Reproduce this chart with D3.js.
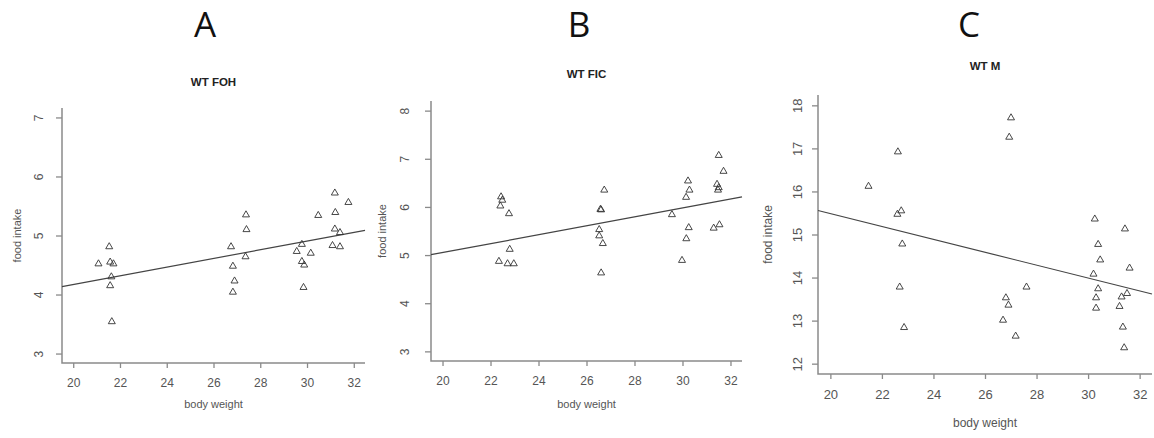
<!DOCTYPE html>
<html>
<head>
<meta charset="utf-8">
<script src="https://cdn.jsdelivr.net/npm/d3@7"></script>
<style>
  body { margin: 0; background: #fff; }
  svg { display: block; }
  .tick-label, .axis-title { fill: #555; font-family: "Liberation Sans", Arial, sans-serif; }
  .panel-title { fill: #222; font-family: "Liberation Sans", Arial, sans-serif; font-weight: bold; }
  .letter { fill: #111; font-family: "Open Sans", sans-serif; }
</style>
</head>
<body>
<svg width="1154" height="438"></svg>
<script>
// Valores (peso corporal x ingestão)
var letras = ["A", "B", "C"];
var titulos = ["WT FOH", "WT FIC", "WT M"];
var ticksX = [20, 22, 24, 26, 28, 30, 32];
var ticksYA = [3, 4, 5, 6, 7];
var ticksYB = [3, 4, 5, 6, 7, 8];
var ticksYC = [12, 13, 14, 15, 16, 17, 18];

var pesoA = [21.08, 21.54, 21.58, 21.72, 21.63, 21.58, 21.65, 26.75, 26.83, 26.90, 26.83, 27.39, 27.41, 27.37,
             29.56, 29.78, 29.78, 29.88, 29.85, 30.16, 30.48, 31.19, 31.21, 31.19, 31.09, 31.41, 31.41, 31.77];
var ingestaoA = [4.52, 4.81, 4.55, 4.52, 4.30, 4.15, 3.54, 4.81, 4.48, 4.23, 4.04, 5.35, 5.10, 4.64,
                 4.73, 4.85, 4.56, 4.50, 4.12, 4.70, 5.34, 5.72, 5.39, 5.11, 4.83, 5.05, 4.81, 5.56];

var pesoB = [22.44, 22.49, 22.41, 22.77, 22.80, 22.35, 22.71, 22.97, 26.74, 26.58, 26.61, 26.53, 26.53, 26.68, 26.61,
             29.56, 29.98, 30.15, 30.23, 30.29, 30.26, 30.16, 31.51, 31.71, 31.44, 31.51, 31.48, 31.30, 31.54];
var ingestaoB = [6.21, 6.14, 6.02, 5.86, 5.12, 4.87, 4.82, 4.82, 6.35, 5.95, 5.94, 5.53, 5.40, 5.24, 4.63,
                 5.84, 4.89, 6.20, 6.54, 6.35, 5.57, 5.34, 7.07, 6.74, 6.47, 6.40, 6.35, 5.56, 5.63];

var pesoC = [21.48, 22.62, 22.60, 22.75, 22.79, 22.69, 22.86, 27.01, 26.94, 26.81, 26.91, 26.70, 27.19, 27.61,
             30.26, 30.39, 30.47, 30.21, 30.39, 30.31, 30.31, 31.43, 31.61, 31.51, 31.30, 31.22, 31.35, 31.40];
var ingestaoC = [16.12, 16.92, 15.47, 15.55, 14.78, 13.78, 12.84, 17.71, 17.26, 13.53, 13.36, 13.01, 12.64, 13.78,
                 15.36, 14.77, 14.41, 14.08, 13.74, 13.53, 13.29, 15.13, 14.22, 13.63, 13.55, 13.33, 12.85, 12.37];

// Retas de regressão (intercepto, inclinação) estimadas da figura
var intercepto = [2.70, 3.20, 18.48];
var inclinacao = [0.0735, 0.0926, -0.1497];

var svg = d3.select("svg");

// Geometria de cada painel (região de plotagem em pixels)
var paineis = [
  { x: pesoA, y: ingestaoA, yt: ticksYA, ylim: [3, 7], box: [62, 365, 108, 363],
    letraX: 205, tituloY: 86, eixoY: 17, eixoX: 408, afastaY: 23, fonte: 12 },
  { x: pesoB, y: ingestaoB, yt: ticksYB, ylim: [3, 8], box: [431, 742, 101, 361],
    letraX: 579, tituloY: 78, eixoY: 382, eixoX: 408, afastaY: 26, fonte: 12 },
  { x: pesoC, y: ingestaoC, yt: ticksYC, ylim: [12, 18], box: [818, 1152, 95, 374],
    letraX: 969, tituloY: 70, eixoY: 768, eixoX: 427, afastaY: 21, fonte: 13 }
];

// extensão de 4% como no R
function estende(lim) {
  var d = (lim[1] - lim[0]) * 0.04;
  return [lim[0] - d, lim[1] + d];
}

// triângulo aberto (pch = 2)
function triangulo(lado) {
  var h = lado * Math.sqrt(3) / 2;
  return "M0," + (-h * 2 / 3) + "L" + (lado / 2) + "," + (h / 3) + "L" + (-lado / 2) + "," + (h / 3) + "Z";
}

paineis.forEach(function(p, i) {
  var esq = p.box[0], dir = p.box[1], topo = p.box[2], base = p.box[3];
  var x = d3.scaleLinear().domain(estende([20, 32])).range([esq, dir]);
  var y = d3.scaleLinear().domain(estende(p.ylim)).range([base, topo]);
  var g = svg.append("g");

  // letra do painel e título
  g.append("text").attr("class", "letter")
    .attr("x", p.letraX).attr("y", 37)
    .attr("text-anchor", "middle").attr("font-size", 35)
    .text(letras[i]);
  g.append("text").attr("class", "panel-title")
    .attr("x", (esq + dir) / 2).attr("y", p.tituloY)
    .attr("text-anchor", "middle").attr("font-size", 11.5)
    .text(titulos[i]);

  // eixos em L
  var eixoX = d3.axisBottom(x).tickValues(ticksX).tickSize(5).tickPadding(p.fonte - 2).tickFormat(d3.format("d"));
  var eixoY = d3.axisLeft(y).tickValues(p.yt).tickSize(6).tickFormat(d3.format("d"));

  var gx = g.append("g").attr("transform", "translate(0," + base + ")").call(eixoX);
  var gy = g.append("g").attr("transform", "translate(" + esq + ",0)").call(eixoY);

  [gx, gy].forEach(function(a) {
    a.select(".domain").remove();
    a.selectAll("line").attr("stroke", "#8a8a8a").attr("stroke-width", 1.3);
    a.selectAll("text").attr("class", "tick-label").attr("font-size", p.fonte);
  });
  // rótulos do eixo y girados, como no R
  gy.selectAll(".tick text")
    .attr("x", null)
    .attr("text-anchor", "middle")
    .attr("dy", "0.35em")
    .attr("transform", "translate(" + (-p.afastaY) + ",0) rotate(-90)");

  g.append("path")
    .attr("d", "M" + esq + "," + topo + "V" + base + "H" + dir)
    .attr("fill", "none").attr("stroke", "#8a8a8a").attr("stroke-width", 1.5);

  // títulos dos eixos
  g.append("text").attr("class", "axis-title")
    .attr("x", (esq + dir) / 2).attr("y", p.eixoX)
    .attr("text-anchor", "middle").attr("font-size", p.fonte - 1)
    .text("body weight");
  g.append("text").attr("class", "axis-title")
    .attr("transform", "translate(" + p.eixoY + "," + (topo + base) / 2 + ") rotate(-90)")
    .attr("text-anchor", "middle").attr("dy", "0.35em").attr("font-size", p.fonte - 1)
    .text("food intake");

  // reta de regressão (abline recortada na região)
  var dx = x.domain();
  g.append("line")
    .attr("x1", x(dx[0])).attr("y1", y(intercepto[i] + inclinacao[i] * dx[0]))
    .attr("x2", x(dx[1])).attr("y2", y(intercepto[i] + inclinacao[i] * dx[1]))
    .attr("stroke", "#444").attr("stroke-width", 1.2);

  // pontos
  g.append("g").selectAll("path")
    .data(p.x)
    .enter().append("path")
      .attr("transform", function(d, k) { return "translate(" + x(d) + "," + y(p.y[k]) + ")"; })
      .attr("d", triangulo(7))
      .attr("fill", "none").attr("stroke", "#333").attr("stroke-width", 0.9);
});
</script>
</body>
</html>
